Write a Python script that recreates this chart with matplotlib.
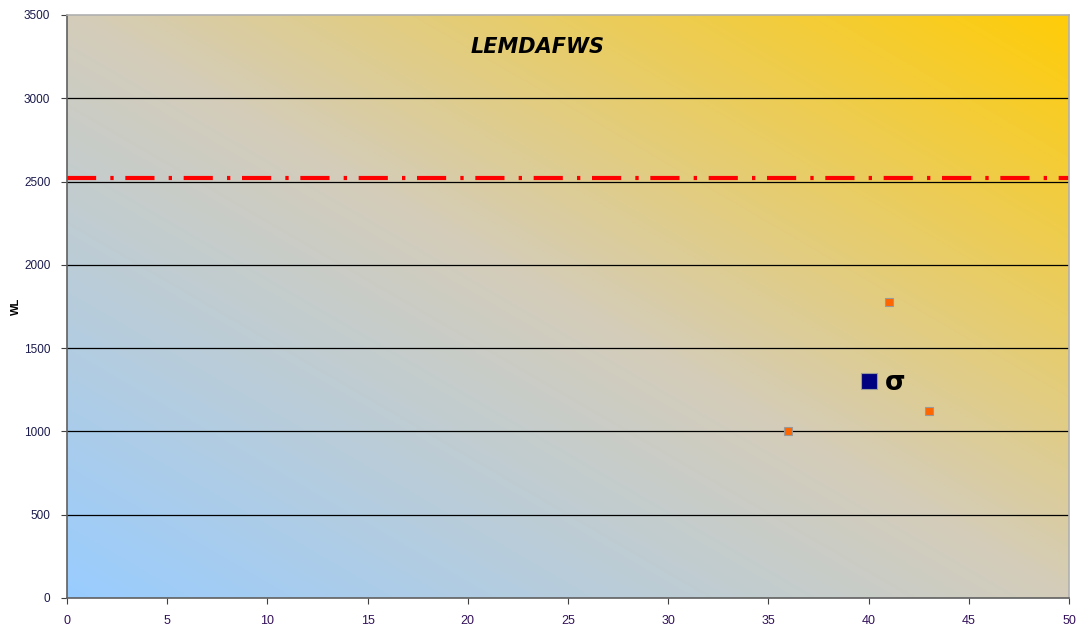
import numpy as np
import matplotlib
matplotlib.use("Agg")
import matplotlib.pyplot as plt
from matplotlib.colors import LinearSegmentedColormap

# Observations
obs_x = [36, 41, 43]
obs_y = [1000, 1780, 1120]

# Mean point marked with sigma
mean_x = [40]
mean_y = [1300]

# Threshold level
threshold = 2520

title = "LEMDAFWS"
ylabel = "WL"
xticks = [0, 5, 10, 15, 20, 25, 30, 35, 40, 45, 50]
yticks = [0, 500, 1000, 1500, 2000, 2500, 3000, 3500]

fig = plt.figure(figsize=(10.79, 6.28), dpi=100)
ax = fig.add_axes([67 / 1079, 30 / 628, 1002 / 1079, 583 / 628])
ax.set_xlim(0, 50)
ax.set_ylim(0, 3500)

# Diagonal blue -> grey -> gold background
cmap = LinearSegmentedColormap.from_list(
    "sunset",
    [(0.0, (153 / 255, 204 / 255, 255 / 255)),
     (0.5, (212 / 255, 205 / 255, 186 / 255)),
     (1.0, (255 / 255, 204 / 255, 8 / 255))])
n = 400
u = np.linspace(0, 1, n)
v = np.linspace(0, 1, n)
U, V = np.meshgrid(u, v)
T = (U + V) / 2
ax.imshow(T, cmap=cmap, extent=[0, 50, 0, 3500], origin="lower",
          aspect="auto", interpolation="bilinear", zorder=0)

ax.set_yticks(yticks)
ax.set_xticks(xticks)
for yt in yticks[1:-1]:
    ax.axhline(yt, color="black", lw=0.9, zorder=1)

ax.plot([0, 50], [threshold, threshold], color="#FF0000", lw=3,
        linestyle=(0, (7, 3.4, 0.8, 2.8)), dash_capstyle="butt", zorder=2)

ax.plot(obs_x, obs_y, linestyle="none", marker="s", markersize=6,
        markerfacecolor="#FF6600", markeredgecolor="#999999",
        markeredgewidth=0.8, zorder=3)
ax.plot(mean_x, mean_y, linestyle="none", marker="s", markersize=11,
        markerfacecolor="#000080", markeredgecolor="#999999",
        markeredgewidth=0.8, zorder=3)
ax.text(mean_x[0] + 0.8, mean_y[0] - 10, "σ", fontsize=19, fontweight="bold",
        ha="left", va="center", color="black", zorder=4)

ax.text(23.5, 3310, title, fontsize=15, fontweight="bold", style="italic",
        family="DejaVu Sans", ha="center", va="center", color="black")

ax.set_ylabel(ylabel, fontsize=8, fontweight="bold", labelpad=2,
              family="Liberation Sans")

for lbl in ax.get_yticklabels():
    lbl.set_fontfamily("Liberation Sans")
    lbl.set_fontsize(8.5)
    lbl.set_color("#1a1a4d")
for lbl in ax.get_xticklabels():
    lbl.set_fontfamily(["Liberation Sans Narrow", "Liberation Sans"])
    lbl.set_fontsize(9)
    lbl.set_color("#33115a")

ax.tick_params(axis="both", direction="out", length=4, width=0.8,
               color="#404040")
ax.tick_params(axis="y", pad=8)
ax.tick_params(axis="x", pad=8)

for side in ["left", "bottom"]:
    ax.spines[side].set_color("#606060")
    ax.spines[side].set_linewidth(1.2)
for side in ["right", "top"]:
    ax.spines[side].set_color("#b0b0b0")
    ax.spines[side].set_linewidth(1.2)

fig.savefig("out.png", dpi=100, facecolor="white")
